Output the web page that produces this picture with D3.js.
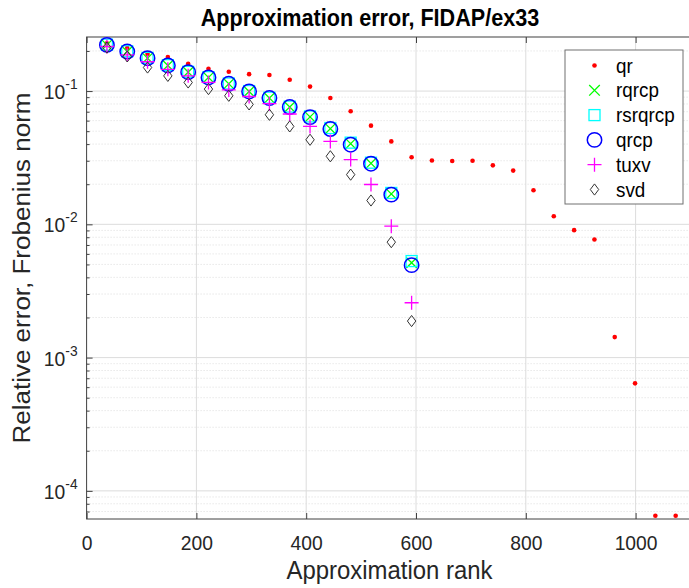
<!DOCTYPE html>
<html>
<head>
<meta charset="utf-8">
<script src="https://cdn.jsdelivr.net/npm/d3@7"></script>
<style>
  html, body { margin: 0; padding: 0; background: #fff; }
  svg { display: block; font-family: "Liberation Sans", Arial, Helvetica, sans-serif; }
</style>
</head>
<body>
<svg id="chart" width="689" height="588"></svg>
<script>
// Approximation rank (steps of 37)
const ranksAll = [37, 74, 111, 148, 185, 222, 259, 296, 333, 370, 407, 444, 481, 518, 555, 592,
  629, 666, 703, 740, 777, 814, 851, 888, 925, 962, 999, 1036, 1073];
const ranks = ranksAll.slice(0, 16);

// Relative error (Frobenius norm) per method
const qr = [0.228, 0.210, 0.190, 0.180, 0.160, 0.147, 0.1395, 0.134, 0.132, 0.1215, 0.108, 0.0886,
  0.0705, 0.0550, 0.0419, 0.0319, 0.0301, 0.0299, 0.0300, 0.0277, 0.0253, 0.0180, 0.0115, 0.00904,
  0.00769, 0.001425, 0.000641, 0.000065, 0.000065];
const rqrcp = [0.222, 0.198, 0.1765, 0.1556, 0.1387, 0.1265, 0.1134, 0.0993, 0.0886, 0.0759, 0.0640,
  0.0522, 0.0403, 0.0287, 0.0169, 0.00515];
const rsrqrcp = [0.223, 0.199, 0.1775, 0.1565, 0.1395, 0.1272, 0.1140, 0.1000, 0.0892, 0.0765, 0.0645,
  0.0528, 0.0410, 0.0290, 0.0172, 0.00530];
const qrcp = [0.222, 0.198, 0.1765, 0.1556, 0.1387, 0.1265, 0.1134, 0.0993, 0.0886, 0.0759, 0.0638,
  0.0519, 0.0396, 0.0285, 0.0167, 0.00494];
const tuxv = [0.216, 0.187, 0.166, 0.1457, 0.1302, 0.1160, 0.102, 0.091, 0.0804, 0.0673, 0.0543,
  0.0419, 0.0306, 0.0199, 0.00968, 0.00258];
const svd = [0.212, 0.182, 0.1502, 0.1300, 0.1160, 0.1035, 0.0922, 0.0794, 0.0664, 0.0543, 0.0431,
  0.0324, 0.0236, 0.0151, 0.00735, 0.00188];

const xTicks = [0, 200, 400, 600, 800, 1000];
const yTicks = [1e-4, 1e-3, 1e-2, 1e-1];
const yTickLabels = ["-4", "-3", "-2", "-1"];

const svg = d3.select("#chart");
const L = 86.6, R = 690.5, T = 37, B = 519;
const SX = 0.92; // horizontal squeeze applied to all text

const x = d3.scaleLinear().domain([0, 1100]).range([L, R]);
const y = d3.scaleLog().domain([6.15e-5, 0.2545]).range([B, T]);

// minor decade values for grid
const minors = [];
for (let e = -5; e <= 0; e++) {
  for (let m = 2; m <= 9; m++) {
    const v = m * Math.pow(10, e);
    if (v > y.domain()[0] && v < y.domain()[1]) minors.push(v);
  }
}

const grid = svg.append("g");
grid.selectAll("line.minor").data(minors).join("line")
  .attr("x1", L).attr("x2", R)
  .attr("y1", d => y(d)).attr("y2", d => y(d))
  .attr("stroke", "#d4d4d4").attr("stroke-width", 0.8).attr("stroke-dasharray", "1,2");
grid.selectAll("line.ymaj").data(yTicks).join("line")
  .attr("x1", L).attr("x2", R)
  .attr("y1", d => y(d)).attr("y2", d => y(d))
  .attr("stroke", "#dcdcdc").attr("stroke-width", 1);
grid.selectAll("line.xmaj").data(xTicks.slice(1)).join("line")
  .attr("x1", d => x(d)).attr("x2", d => x(d))
  .attr("y1", T).attr("y2", B)
  .attr("stroke", "#dcdcdc").attr("stroke-width", 1);

// axis frame
const axisColor = "#404040";
svg.append("rect").attr("x", L).attr("y", T).attr("width", R - L).attr("height", B - T)
  .attr("fill", "none").attr("stroke", axisColor).attr("stroke-width", 1);

// x axis (bottom) and mirrored ticks on top, ticks pointing inward
const gx = svg.append("g").attr("transform", `translate(0,${B})`)
  .call(d3.axisBottom(x).tickValues(xTicks).tickSize(-6).tickFormat(""));
gx.select(".domain").remove();
gx.selectAll(".tick line").attr("stroke", axisColor);
gx.selectAll(".tick").append("text")
  .attr("transform", `translate(0,31) scale(${SX},1)`)
  .attr("text-anchor", "middle").attr("font-size", 21).attr("fill", "#262626")
  .text(d => d3.format("d")(d));
const gxt = svg.append("g").attr("transform", `translate(0,${T})`)
  .call(d3.axisTop(x).tickValues(xTicks).tickSize(-6).tickFormat(""));
gxt.select(".domain").remove();
gxt.selectAll(".tick line").attr("stroke", axisColor);

// y axis with power-of-ten labels, inward ticks
const gy = svg.append("g").attr("transform", `translate(${L},0)`)
  .call(d3.axisLeft(y).tickValues(yTicks).tickSize(-6).tickFormat(""));
gy.select(".domain").remove();
gy.selectAll(".tick line").attr("stroke", axisColor);
const gym = svg.append("g").attr("transform", `translate(${L},0)`)
  .call(d3.axisLeft(y).tickValues(minors).tickSize(-3).tickFormat(""));
gym.select(".domain").remove();
gym.selectAll(".tick line").attr("stroke", axisColor);

const ylab = svg.append("g");
yTicks.forEach((v, i) => {
  const t = ylab.append("text")
    .attr("transform", `translate(${L - 9},${y(v) + 8}) scale(${SX},1)`)
    .attr("text-anchor", "end").attr("fill", "#262626").attr("font-size", 21);
  t.append("tspan").text("10");
  t.append("tspan").attr("dy", -10).attr("font-size", 15).text(yTickLabels[i]);
});

// data marks
const plot = svg.append("g");
const pts = (vals, xs) => vals.map((v, i) => ({ x: xs[i], v }));

// qr: small red dots
plot.selectAll("circle.qr").data(pts(qr, ranksAll)).join("circle")
  .attr("cx", d => x(d.x)).attr("cy", d => y(d.v)).attr("r", 2.3).attr("fill", "#ff0000");

// rqrcp: green x
const xMark = s => `M${-s},${-s}L${s},${s}M${-s},${s}L${s},${-s}`;
plot.selectAll("path.rq").data(pts(rqrcp, ranks)).join("path")
  .attr("transform", d => `translate(${x(d.x)},${y(d.v)})`)
  .attr("d", xMark(5.3)).attr("stroke", "#00ff00").attr("stroke-width", 1.3).attr("fill", "none");

// rsrqrcp: cyan square
plot.selectAll("rect.rs").data(pts(rsrqrcp, ranks)).join("rect")
  .attr("x", d => x(d.x) - 5.5).attr("y", d => y(d.v) - 5.5).attr("width", 11).attr("height", 11)
  .attr("stroke", "#00ffff").attr("stroke-width", 1.3).attr("fill", "none");

// qrcp: blue circle
plot.selectAll("circle.qrcp").data(pts(qrcp, ranks)).join("circle")
  .attr("cx", d => x(d.x)).attr("cy", d => y(d.v)).attr("r", 7.2)
  .attr("stroke", "#0000ff").attr("stroke-width", 1.5).attr("fill", "none");

// tuxv: magenta plus
const plusMark = s => `M${-s},0L${s},0M0,${-s}L0,${s}`;
plot.selectAll("path.tu").data(pts(tuxv, ranks)).join("path")
  .attr("transform", d => `translate(${x(d.x)},${y(d.v)})`)
  .attr("d", plusMark(7)).attr("stroke", "#ff00ff").attr("stroke-width", 1.3).attr("fill", "none");

// svd: black diamond
const diamond = (w, h) => `M0,${-h}L${w},0L0,${h}L${-w},0Z`;
plot.selectAll("path.sv").data(pts(svd, ranks)).join("path")
  .attr("transform", d => `translate(${x(d.x)},${y(d.v)})`)
  .attr("d", diamond(4.2, 5.6)).attr("stroke", "#333").attr("stroke-width", 1).attr("fill", "none");

// legend
const legend = [
  { name: "qr", kind: "dot" },
  { name: "rqrcp", kind: "x" },
  { name: "rsrqrcp", kind: "sq" },
  { name: "qrcp", kind: "circ" },
  { name: "tuxv", kind: "plus" },
  { name: "svd", kind: "dia" }
];
const lg = svg.append("g");
lg.append("rect").attr("x", 565).attr("y", 50).attr("width", 118).attr("height", 154)
  .attr("fill", "#fff").attr("stroke", "#707070").attr("stroke-width", 1);
legend.forEach((e, i) => {
  const cy = 65.5 + i * 24.8, cx = 594.5;
  const g = lg.append("g").attr("transform", `translate(${cx},${cy})`);
  if (e.kind === "dot") g.append("circle").attr("r", 2.3).attr("fill", "#ff0000");
  if (e.kind === "x") g.append("path").attr("d", xMark(5.3)).attr("stroke", "#00ff00").attr("stroke-width", 1.3);
  if (e.kind === "sq") g.append("rect").attr("x", -5.5).attr("y", -5.5).attr("width", 11).attr("height", 11)
    .attr("stroke", "#00ffff").attr("stroke-width", 1.3).attr("fill", "none");
  if (e.kind === "circ") g.append("circle").attr("r", 7.2).attr("stroke", "#0000ff").attr("stroke-width", 1.5).attr("fill", "none");
  if (e.kind === "plus") g.append("path").attr("d", plusMark(7)).attr("stroke", "#ff00ff").attr("stroke-width", 1.3);
  if (e.kind === "dia") g.append("path").attr("d", diamond(4.2, 5.6)).attr("stroke", "#333").attr("stroke-width", 1).attr("fill", "none");
  lg.append("text").attr("transform", `translate(616,${cy + 7}) scale(${SX},1)`)
    .attr("font-size", 20.5).attr("fill", "#000").text(e.name);
});

// titles
svg.append("text").attr("transform", `translate(370,26) scale(${SX},1)`).attr("text-anchor", "middle")
  .attr("font-size", 23.5).attr("font-weight", "bold").attr("fill", "#000")
  .text("Approximation error, FIDAP/ex33");
svg.append("text").attr("transform", `translate(${(L + R) / 2 + 1},579) scale(${SX},1)`).attr("text-anchor", "middle")
  .attr("font-size", 26).attr("fill", "#262626").text("Approximation rank");
svg.append("text").attr("transform", `translate(30,${(T + B) / 2 - 10}) rotate(-90) scale(1,${SX})`)
  .attr("text-anchor", "middle").attr("font-size", 26).attr("fill", "#262626")
  .text("Relative error, Frobenius norm");
</script>
</body>
</html>
